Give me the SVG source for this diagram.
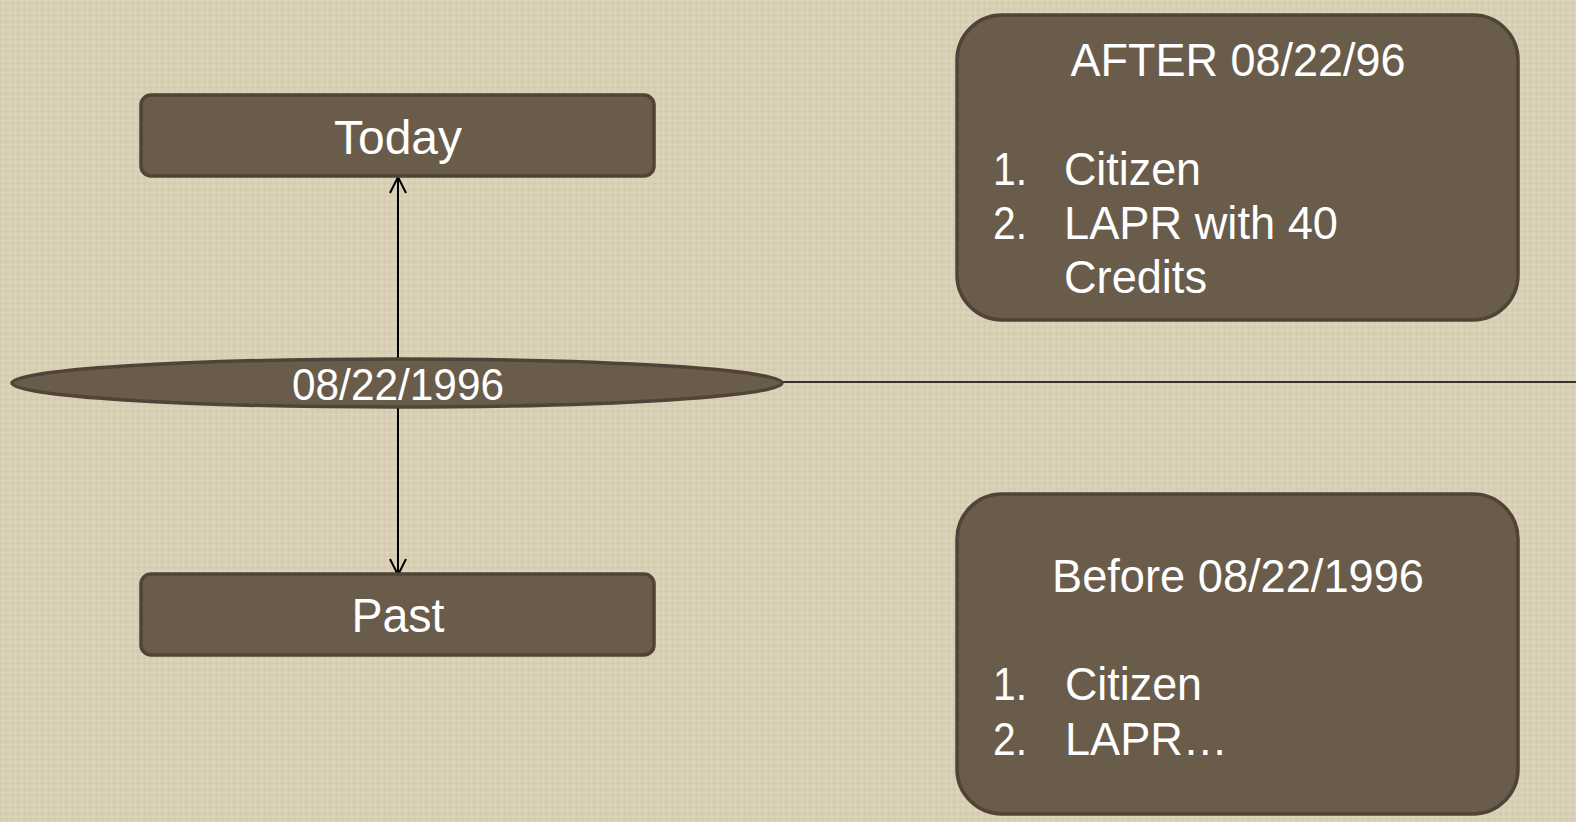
<svg xmlns="http://www.w3.org/2000/svg" width="1576" height="822" viewBox="0 0 1576 822">
<defs>
<pattern id="linen" width="6" height="6" patternUnits="userSpaceOnUse">
<rect width="6" height="6" fill="#d8cfb5"/>
<rect x="0" y="0" width="6" height="1" fill="#e3dcc6" opacity="0.5"/>
<rect x="0" y="3" width="6" height="1" fill="#cbc1a6" opacity="0.35"/>
<rect x="0" y="0" width="1" height="6" fill="#ccc2a7" opacity="0.35"/>
<rect x="3" y="0" width="1" height="6" fill="#e2dac4" opacity="0.4"/>
</pattern>
<marker id="arr" viewBox="0 0 20 20" refX="18" refY="10" markerWidth="20" markerHeight="20" markerUnits="userSpaceOnUse" orient="auto-start-reverse">
<path d="M2,2 L18,10 L2,18" fill="none" stroke="#000" stroke-width="2"/>
</marker>
<style>
.box{fill:#6a5c4b;stroke:#4f4437;stroke-width:3.5}
.t{font-family:"Liberation Sans",Arial,sans-serif;fill:#fff}
.c{text-anchor:middle}
.conn{stroke:#000;fill:none}
</style>
</defs>
<rect width="1576" height="822" fill="url(#linen)"/>
<g id="connectors">
<line class="conn" x1="398" y1="575" x2="398" y2="177" stroke-width="2" marker-start="url(#arr)" marker-end="url(#arr)"/>
<line class="conn" x1="782" y1="382" x2="1576" y2="382" stroke-width="1.5"/>
</g>
<g id="today">
<rect class="box" x="141" y="95" width="513" height="81" rx="10"/>
<text class="t c" x="398" y="154" font-size="48" textLength="128" lengthAdjust="spacingAndGlyphs">Today</text>
</g>
<g id="past">
<rect class="box" x="141" y="574" width="513" height="81" rx="10"/>
<text class="t c" x="398" y="632" font-size="48" textLength="93" lengthAdjust="spacingAndGlyphs">Past</text>
</g>
<g id="date">
<ellipse class="box" cx="397" cy="383" rx="385" ry="24"/>
<text class="t c" x="398" y="400" font-size="44" textLength="212" lengthAdjust="spacingAndGlyphs">08/22/1996</text>
</g>
<g id="after">
<rect class="box" x="957" y="15" width="561" height="305" rx="45"/>
<text class="t c" x="1238" y="76" font-size="46" textLength="335" lengthAdjust="spacingAndGlyphs">AFTER 08/22/96</text>
<text class="t" x="993" y="185" font-size="46" textLength="34" lengthAdjust="spacingAndGlyphs">1.</text>
<text class="t" x="1064" y="185" font-size="46" textLength="137" lengthAdjust="spacingAndGlyphs">Citizen</text>
<text class="t" x="993" y="239" font-size="46" textLength="34" lengthAdjust="spacingAndGlyphs">2.</text>
<text class="t" x="1064" y="239" font-size="46" textLength="274" lengthAdjust="spacingAndGlyphs">LAPR with 40</text>
<text class="t" x="1064" y="293" font-size="46" textLength="143" lengthAdjust="spacingAndGlyphs">Credits</text>
</g>
<g id="before">
<rect class="box" x="957" y="494" width="561" height="320" rx="45"/>
<text class="t c" x="1238" y="592" font-size="46" textLength="372" lengthAdjust="spacingAndGlyphs">Before 08/22/1996</text>
<text class="t" x="993" y="700" font-size="46" textLength="34" lengthAdjust="spacingAndGlyphs">1.</text>
<text class="t" x="1065" y="700" font-size="46" textLength="137" lengthAdjust="spacingAndGlyphs">Citizen</text>
<text class="t" x="993" y="755" font-size="46" textLength="34" lengthAdjust="spacingAndGlyphs">2.</text>
<text class="t" x="1065" y="755" font-size="46" textLength="163" lengthAdjust="spacingAndGlyphs">LAPR…</text>
</g>
</svg>
